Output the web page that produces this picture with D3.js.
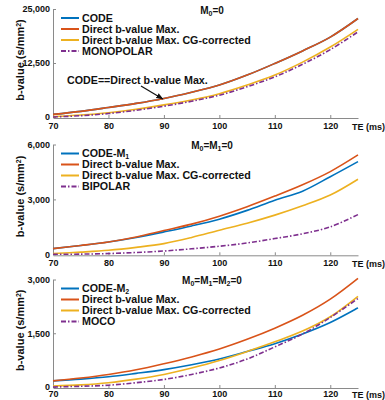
<!DOCTYPE html>
<html>
<head>
<meta charset="utf-8">
<script src="https://cdn.jsdelivr.net/npm/d3@7"></script>
<style>
  body { margin: 0; background: #fff; }
  svg { display: block; font-family: "Liberation Sans", Arial, sans-serif; font-weight: bold; }
</style>
</head>
<body>
<svg id="chart" width="385" height="400"></svg>
<script>
// echo times (ms)
const te = [70, 75, 80, 85, 90, 95, 100, 105, 110, 115, 120, 125];

// panel 1: M0=0
const p1Code = [600, 1300, 2200, 3150, 4300, 5750, 7400, 9700, 12400, 15300, 18500, 22800];
const p1Direct = [600, 1300, 2200, 3150, 4300, 5750, 7400, 9700, 12400, 15300, 18500, 22800];
const p1Cg = [80, 450, 1000, 1800, 2800, 3950, 5400, 7400, 9700, 12700, 16200, 20300];
const p1Mono = [0, 300, 800, 1550, 2500, 3650, 5050, 7000, 9300, 12200, 15600, 19700];

// panel 2: M0=M1=0
const p2Code = [310, 480, 675, 920, 1225, 1550, 1920, 2400, 2960, 3450, 4240, 5065];
const p2Direct = [310, 480, 675, 950, 1300, 1650, 2085, 2600, 3180, 3800, 4520, 5430];
const p2Cg = [40, 120, 220, 380, 585, 920, 1316, 1700, 2140, 2650, 3236, 4100];
const p2Bipolar = [0, 10, 40, 100, 180, 300, 440, 620, 860, 1120, 1500, 2170];

// panel 3: M0=M1=M2=0
const p3Code = [170, 220, 285, 380, 485, 620, 780, 990, 1210, 1480, 1800, 2210];
const p3Direct = [170, 250, 350, 480, 650, 840, 1060, 1330, 1640, 2000, 2450, 3030];
const p3Cg = [30, 60, 120, 220, 350, 530, 740, 990, 1260, 1560, 1960, 2530];
const p3Moco = [0, 20, 50, 120, 210, 350, 530, 780, 1120, 1480, 1940, 2470];

const xTicks = [70, 80, 90, 100, 110, 120];
const titles = ["M_0=0", "M_0=M_1=0", "M_0=M_1=M_2=0"];
const yMax = [25000, 6000, 3000];
const legendLabels = [
  ["CODE", "Direct b-value Max.", "Direct b-value Max. CG-corrected", "MONOPOLAR"],
  ["CODE-M_1", "Direct b-value Max.", "Direct b-value Max. CG-corrected", "BIPOLAR"],
  ["CODE-M_2", "Direct b-value Max.", "Direct b-value Max. CG-corrected", "MOCO"]
];
const panelSeries = [
  [p1Code, p1Direct, p1Cg, p1Mono],
  [p2Code, p2Direct, p2Cg, p2Bipolar],
  [p3Code, p3Direct, p3Cg, p3Moco]
];

const colors = ["#0072BD", "#D95319", "#EDB120", "#7E2F8E"];
const dashes = [null, null, null, "5,2,1.5,2"];
const axisColor = "#8a8a8a";

const svg = d3.select("#chart");

// vertical placement of each panel (top tick, zero tick)
const panelTop = [9, 144.5, 279.5];
const panelBottom = [117, 254.3, 387];
const labelPad = [4.5, 4.5, 2.5];

const x = d3.scaleLinear().domain([70, 125]).range([53, 358]);

// write "A_1" style text with subscripts into a text element
function richText(sel, str, subSize) {
  const parts = str.split(/(_.)/).filter(s => s.length);
  parts.forEach(p => {
    if (p[0] === "_") {
      sel.append("tspan").attr("baseline-shift", "-22%").attr("font-size", subSize).text(p[1]);
    } else {
      sel.append("tspan").text(p);
    }
  });
}

panelSeries.forEach((series, i) => {
  const y = d3.scaleLinear().domain([0, yMax[i]]).range([panelBottom[i], panelTop[i]]);
  const g = svg.append("g");

  // axes
  const xAxis = d3.axisBottom(x).tickValues(xTicks).tickSizeInner(-3).tickSizeOuter(0).tickPadding(labelPad[i]);
  const gx = g.append("g").attr("transform", `translate(0,${panelBottom[i] + 1})`).call(xAxis);
  const yAxis = d3.axisLeft(y).tickValues([0, yMax[i] / 2, yMax[i]]).tickFormat(d3.format(","))
    .tickSizeInner(-3).tickSizeOuter(0).tickPadding(3);
  const gy = g.append("g").attr("transform", `translate(${x(70)},0)`).call(yAxis);
  [gx, gy].forEach(a => {
    a.select(".domain").attr("stroke", axisColor);
    a.selectAll(".tick line").attr("stroke", axisColor);
    a.selectAll("text").attr("font-size", 9).attr("font-weight", "bold").attr("fill", "#111")
      .attr("font-family", "Liberation Sans, Arial, sans-serif");
  });

  g.append("text")
    .attr("x", 352).attr("y", panelBottom[i] + 8.5 + labelPad[i])
    .attr("font-size", 9).attr("fill", "#111")
    .text("TE (ms)");

  // y label
  const yl = g.append("text")
    .attr("transform", `translate(24,${(panelTop[i] + panelBottom[i]) / 2 - 3}) rotate(-90)`)
    .attr("text-anchor", "middle").attr("font-size", 11).attr("fill", "#111");
  yl.append("tspan").text("b-value (s/mm");
  yl.append("tspan").attr("baseline-shift", "super").attr("font-size", 7).text("2");
  yl.append("tspan").text(")");

  // title
  const t = g.append("text")
    .attr("x", 212).attr("y", panelTop[i] + 4.5)
    .attr("text-anchor", "middle").attr("font-size", 10).attr("fill", "#111");
  richText(t, titles[i], 7);

  // lines
  const line = d3.line().x((d, k) => x(te[k])).y(d => y(d)).curve(d3.curveCatmullRom.alpha(0.5));
  series.forEach((vals, k) => {
    g.append("path")
      .attr("d", line(vals))
      .attr("fill", "none")
      .attr("stroke", colors[k])
      .attr("stroke-width", 1.6)
      .attr("stroke-dasharray", dashes[k]);
  });

  // legend
  legendLabels[i].forEach((lab, k) => {
    const ly = panelTop[i] + 9 + k * 11;
    g.append("line")
      .attr("x1", 61).attr("x2", 79).attr("y1", ly).attr("y2", ly)
      .attr("stroke", colors[k]).attr("stroke-width", 2)
      .attr("stroke-dasharray", dashes[k]);
    const lt = g.append("text")
      .attr("x", 82).attr("y", ly + 3.8)
      .attr("font-size", 10.7).attr("fill", "#111");
    richText(lt, lab, 7);
  });

  // annotation in the first panel
  if (i === 0) {
    svg.append("defs").append("marker")
      .attr("id", "arrow").attr("viewBox", "0 0 10 10").attr("refX", 9).attr("refY", 5)
      .attr("markerWidth", 6).attr("markerHeight", 6).attr("orient", "auto")
      .append("path").attr("d", "M0,1 L10,5 L0,9 Z").attr("fill", "#111");
    g.append("text")
      .attr("x", 67).attr("y", 83.5)
      .attr("font-size", 10.7).attr("fill", "#111")
      .text("CODE==Direct b-value Max.");
    g.append("line")
      .attr("x1", 141).attr("y1", 86)
      .attr("x2", x(89.8)).attr("y2", y(p1Direct[4]) + 0.5)
      .attr("stroke", "#111").attr("stroke-width", 1.2)
      .attr("marker-end", "url(#arrow)");
  }
});
</script>
</body>
</html>
